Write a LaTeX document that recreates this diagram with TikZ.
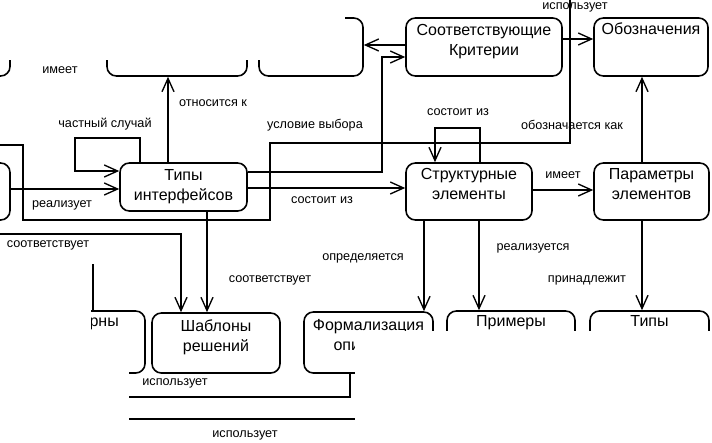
\documentclass[tikz,border=0pt]{standalone}
\usepackage{fontspec}
\setmainfont{Liberation Sans}
\usetikzlibrary{arrows.meta}
\begin{document}
\begin{tikzpicture}[x=0.75pt,y=-0.75pt,
  box/.style={draw,line width=1.2pt,rounded corners=7pt,align=center,inner sep=0pt,
    font=\fontsize{12}{15}\selectfont,text depth=11pt},
  lbl/.style={font=\fontsize{9.5}{11}\selectfont,inner sep=1pt},
  link/.style={line width=1pt,-{Straight Barb[length=10pt,width=9pt]}},
  wire/.style={line width=1pt},
  mask/.style={fill=white,draw=none}]
\clip (0,0) rectangle (712,442);
% top row
\node[box,minimum width=52.5pt,minimum height=43.5pt] (A) at (-25,47) {};
\node[box,minimum width=105pt,minimum height=43.5pt] (B) at (177,47) {};
\node[box,minimum width=78pt,minimum height=43.5pt] (C) at (311,47) {};
\node[box,minimum width=117pt,minimum height=43.5pt] (D) at (484,47) {Соответствующие\\Критерии};
\node[box,minimum width=85.5pt,minimum height=43.5pt,text depth=28pt] (E) at (651,47) {Обозначения};
% middle row
\node[box,minimum width=52.5pt,minimum height=42.75pt] (G) at (-25,191.5) {};
\node[box,minimum width=95.25pt,minimum height=36pt,text depth=3pt] (F) at (183.5,187) {Типы\\интерфейсов};
\node[box,minimum width=94.5pt,minimum height=42.75pt] (H) at (469,191.5) {Структурные\\элементы};
\node[box,minimum width=86.25pt,minimum height=42.75pt] (I) at (651.5,191.5) {Параметры\\элементов};
% bottom row
\node[box,minimum width=93.75pt,minimum height=46.5pt,text depth=32pt] (J) at (82.5,342) {Паттерны};
\node[box,minimum width=96pt,minimum height=45pt] (K) at (216,343) {Шаблоны\\решений};
\node[box,minimum width=96.75pt,minimum height=45.75pt] (L) at (368.5,342.5) {Формализация\\описания};
\node[box,minimum width=96pt,minimum height=46.5pt,text depth=32pt] (M) at (511,342) {Примеры};
\node[box,minimum width=89.25pt,minimum height=46.5pt,text depth=32pt] (N) at (649.5,342) {Типы};
\coordinate (useL) at (-5,145);
\coordinate (useT) at (570,-5);
\coordinate (fitL) at (-5,234);
\coordinate (patT) at (93,264);
\coordinate (useB1) at (120,397);
\coordinate (useB2) at (120,419);
% connectors
\draw[link] (A.east |- 0,52) -- (B.west |- 0,52) node[lbl] (tHas) at (60,70) {имеет};
\draw[link] (168,0 |- F.north) -- (168,0 |- B.south) node[lbl] (tRel) at (213,103) {относится к};
\draw[link] (140,0 |- F.north) -- (140,138) -- (75,138) -- (75,171) -- (F.west |- 0,171)
  node[lbl] (tCase) at (105,124) {частный случай};
\draw[link] (G.east |- 0,189) -- (F.west |- 0,189) node[lbl] (tImpl) at (62,205) {реализует};
\draw[wire] (useL) -- (23,145) -- (23,220) -- (270,220) -- (270,143) -- (570,143) -- (useT)
  node[lbl] (tUseT) at (575,7) {использует};
\draw[link] (F.east |- 0,172) -- (382,172) -- (382,57) -- (D.west |- 0,57)
  node[lbl] (tCond) at (315,125) {условие выбора};
\draw[link] (F.east |- 0,188) -- (H.west |- 0,188) node[lbl] (tCons) at (322,200) {состоит из};
\draw[link] (480,0 |- H.north) -- (480,128) -- (435,128) -- (435,0 |- H.north)
  node[lbl] (tCons2) at (458,112) {состоит из};
\draw[link] (D.west |- 0,45) -- (C.east |- 0,45);
\draw[link] (D.east |- 0,39) -- (E.west |- 0,39);
\draw[link] (642,0 |- I.north) -- (642,0 |- E.south) node[lbl] (tMark) at (572,125) {обозначается как};
\draw[link] (H.east |- 0,190) -- (I.west |- 0,190) node[lbl] (tHas2) at (563,175) {имеет};
\draw[link] (424,0 |- H.south) -- (424,0 |- L.north) node[lbl] (tDef) at (363,258) {определяется};
\draw[link] (479,0 |- H.south) -- (479,0 |- M.north) node[lbl] (tReal) at (533,248) {реализуется};
\draw[link] (642,0 |- I.south) -- (642,0 |- N.north) node[lbl] (tOwn) at (587,280) {принадлежит};
\draw[link] (207,0 |- F.south) -- (207,0 |- K.north) node[lbl] (tFit) at (270,280) {соответствует};
\draw[link] (fitL) -- (181,234) -- (181,0 |- K.north) node[lbl] (tFit2) at (48,245) {соответствует};
\draw[wire] (patT) -- (93,0 |- J.north);
\draw[wire] (350,0 |- L.south) -- (350,397) -- (useB1) node[lbl] (tUse1) at (175,383) {использует};
\draw[wire] (M.south) -- (511,419) -- (useB2) node[lbl] (tUse2) at (245,435) {использует};
% cut-off parts
\fill[mask] (-5,-5) rectangle (345,60);
\fill[mask] (-5,255) rectangle (91,447);
\fill[mask] (91,367) rectangle (129,447);
\fill[mask] (355,331) rectangle (717,447);
\end{tikzpicture}
\end{document}
